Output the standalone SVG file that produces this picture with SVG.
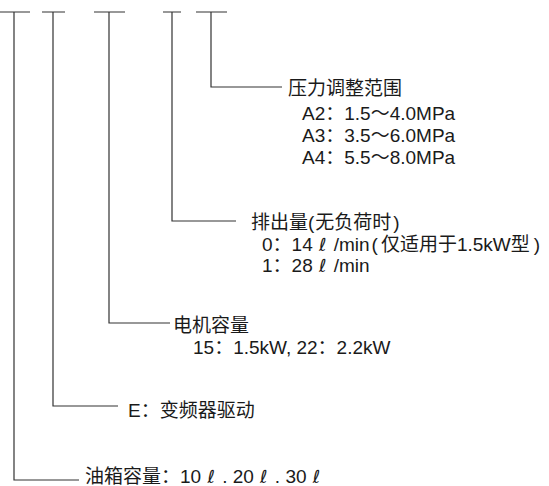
<svg xmlns="http://www.w3.org/2000/svg" width="549" height="486" viewBox="0 0 549 486">
<style>
.ln{stroke:#333;stroke-width:1.2;fill:none}
text{font-family:"Liberation Sans","Noto Sans CJK SC",sans-serif;font-size:19px;fill:#1a1a1a}
.l{font-family:"DejaVu Sans",sans-serif;font-style:italic;font-size:18px}
</style>
<rect width="549" height="486" fill="#fff"/>
<g id="connectors">
<path class="ln" d="M0,12H30M14,12V480H79"/>
<path class="ln" d="M42,12H65M53,12V406H118"/>
<path class="ln" d="M94,12H125M109,12V323H170"/>
<path class="ln" d="M163,12H181M172,12V221H236"/>
<path class="ln" d="M196,12H227M211,12V87H282"/>
</g>
<g id="pressure">
<text x="288" y="95">压力调整范围</text>
<text x="302" y="120">A2：1.5～4.0MPa</text>
<text x="302" y="142">A3：3.5～6.0MPa</text>
<text x="302" y="164">A4：5.5～8.0MPa</text>
</g>
<g id="flow">
<text x="251" y="229">排出量(<tspan dx="1">无负荷时</tspan><tspan dx="2">)</tspan></text>
<text x="262" y="251">0：14 <tspan class="l" dx="1">ℓ</tspan><tspan dx="2"> /min</tspan><tspan dx="2">(</tspan><tspan dx="3">仅适用于1.5kW型</tspan><tspan dx="4">)</tspan></text>
<text x="262" y="272">1：28 <tspan class="l" dx="1">ℓ</tspan><tspan dx="2"> /min</tspan></text>
</g>
<g id="motor">
<text x="173" y="332">电机容量</text>
<text x="193" y="354">15：1.5kW, 22：2.2kW</text>
</g>
<g id="drive">
<text x="128" y="417">E：变频器驱动</text>
</g>
<g id="tank">
<text x="85" y="483">油箱容量：10 <tspan class="l" dx="1">ℓ</tspan><tspan dx="2"> . 20 </tspan><tspan class="l" dx="1">ℓ</tspan><tspan dx="2"> . 30 </tspan><tspan class="l" dx="1">ℓ</tspan></text>
</g>
</svg>
